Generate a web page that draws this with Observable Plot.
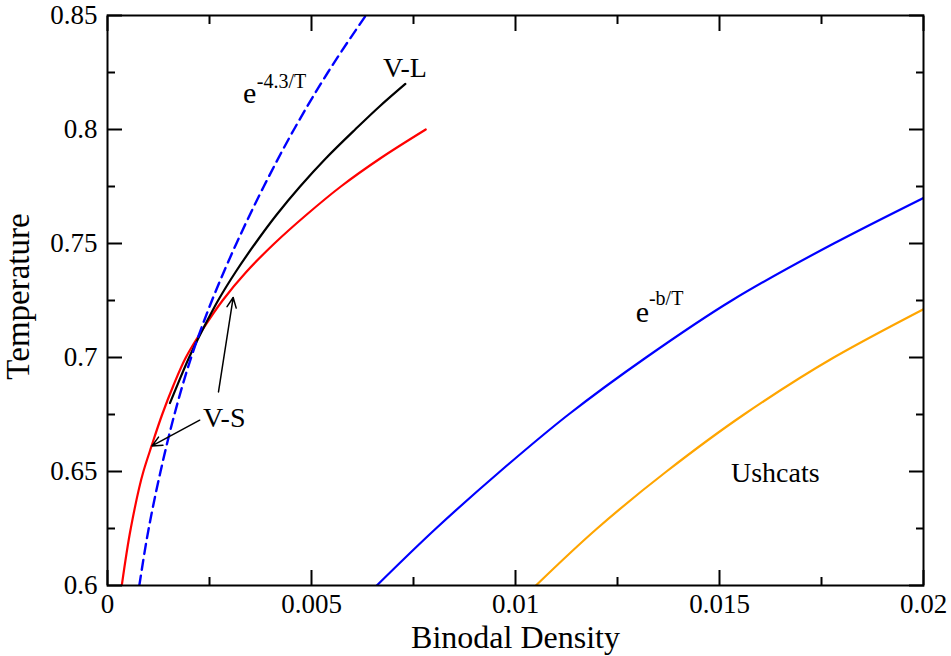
<!DOCTYPE html>
<html><head><meta charset="utf-8">
<script src="https://cdn.jsdelivr.net/npm/d3@7"></script>
<script src="https://cdn.jsdelivr.net/npm/@observablehq/plot@0.6"></script>
<style>
html,body{margin:0;padding:0;background:#fff;}
#chart svg{display:block;}
#chart svg text{font-family:"Liberation Serif","Times New Roman",serif;}
</style></head><body><div id="chart"></div>
<script>
// Axis ticks
const xTicks = [0, 0.005, 0.01, 0.015, 0.02];
const xTickLabels = ["0", "0.005", "0.01", "0.015", "0.02"];
const xMinorTicks = [0.0025, 0.0075, 0.0125, 0.0175];
const yTicks = [0.6, 0.65, 0.7, 0.75, 0.8, 0.85];
const yTickLabels = ["0.6", "0.65", "0.7", "0.75", "0.8", "0.85"];
const yMinorTicks = [0.625, 0.675, 0.725, 0.775, 0.825];

// V-S binodal (red)
const vsT   = [0.6, 0.625, 0.65, 0.6612, 0.675, 0.6875, 0.7, 0.7125, 0.725, 0.7375, 0.75, 0.7625, 0.775, 0.7875, 0.8];
const vsRho = [0.00035, 0.00057, 0.00088, 0.00108, 0.00134, 0.00161, 0.00192, 0.00234, 0.00282, 0.0034, 0.00409, 0.00487, 0.00572, 0.0067, 0.0078];

// V-L binodal (black)
const vlT   = [0.68, 0.69, 0.7, 0.7125, 0.725, 0.7375, 0.75, 0.7625, 0.775, 0.7875, 0.8, 0.81, 0.82];
const vlRho = [0.00153, 0.00176, 0.002, 0.00234, 0.00271, 0.00314, 0.00362, 0.00414, 0.00472, 0.00536, 0.00607, 0.00666, 0.0073];

// e^{-4.3/T} (blue dashed)
const e43T   = [0.6, 0.625, 0.65, 0.675, 0.7, 0.725, 0.75, 0.775, 0.8, 0.825, 0.85];
const e43Rho = [0.00078, 0.00101, 0.0013, 0.00164, 0.00205, 0.00256, 0.00316, 0.00383, 0.00457, 0.0054, 0.00633];

// e^{-b/T} (blue solid)
const ebT   = [0.6, 0.625, 0.65, 0.675, 0.7, 0.725, 0.75, 0.77];
const ebRho = [0.0066, 0.00805, 0.00962, 0.0113, 0.0132, 0.0153, 0.0178, 0.02];

// Ushcats (orange)
const ushT   = [0.6, 0.625, 0.65, 0.675, 0.7, 0.7212];
const ushRho = [0.0105, 0.012, 0.0137, 0.0156, 0.0178, 0.02];

// Annotations (data-space anchors)
const labelText = ["V-L", "V-S", "Ushcats"];
const labelX    = [0.00675, 0.00234, 0.01528];
const labelY    = [0.8229, 0.6694, 0.6453];
const baseText  = ["e", "e"];
const baseX     = [0.00332, 0.01295];
const baseY     = [0.8115, 0.7155];
const supText   = ["-4.3/T", "-b/T"];
const supX      = [0.00366, 0.01327];
const supY      = [0.8181, 0.7229];

// Arrows from the V-S label
const arrowX1 = [0.00226, 0.00272];
const arrowY1 = [0.6725, 0.6849];
const arrowX2 = [0.00109, 0.00308];
const arrowY2 = [0.6612, 0.7263];

const xTitle = "Binodal Density";
const yTitle = "Temperature";

const toRows = (xs, ys) => xs.map((x, i) => ({x, y: ys[i]}));
const vs = toRows(vsRho, vsT);
const vl = toRows(vlRho, vlT);
const e43 = toRows(e43Rho, e43T);
const eb = toRows(ebRho, ebT);
const ush = toRows(ushRho, ushT);
const labels = labelText.map((t, i) => ({t, x: labelX[i], y: labelY[i]}));
const bases = baseText.map((t, i) => ({t, x: baseX[i], y: baseY[i]}));
const sups = supText.map((t, i) => ({t, x: supX[i], y: supY[i]}));
const arrows = arrowX1.map((x1, i) => ({x1, y1: arrowY1[i], x2: arrowX2[i], y2: arrowY2[i]}));

const fmtX = d => xTickLabels[xTicks.indexOf(d)];
const fmtY = d => yTickLabels[yTicks.indexOf(d)];
const blank = () => "";
const serif = '"Liberation Serif", "Times New Roman", serif';

const chart = Plot.plot({
  width: 951,
  height: 656,
  marginLeft: 107,
  marginRight: 28,
  marginTop: 15,
  marginBottom: 71,
  style: {fontFamily: serif, fontSize: "27px", background: "#fff", color: "#000", overflow: "visible"},
  x: {domain: [0, 0.02]},
  y: {domain: [0.6, 0.85]},
  marks: [
    Plot.line(vs, {x: "x", y: "y", stroke: "#ff0000", strokeWidth: 2.2, curve: "monotone-y", clip: true}),
    Plot.line(vl, {x: "x", y: "y", stroke: "#000000", strokeWidth: 2.2, curve: "monotone-y", clip: true}),
    Plot.line(e43, {x: "x", y: "y", stroke: "#0000ff", strokeWidth: 2.4, strokeDasharray: "10,6", curve: "monotone-y", clip: true}),
    Plot.line(eb, {x: "x", y: "y", stroke: "#0000ff", strokeWidth: 2.2, curve: "monotone-y", clip: true}),
    Plot.line(ush, {x: "x", y: "y", stroke: "#ffa500", strokeWidth: 2.2, curve: "monotone-y", clip: true}),
    Plot.arrow(arrows, {x1: "x1", y1: "y1", x2: "x2", y2: "y2", stroke: "#000", strokeWidth: 1.5, headLength: 11, headAngle: 50}),
    Plot.text(labels, {x: "x", y: "y", text: "t", textAnchor: "start", lineAnchor: "bottom", fontSize: 28, fontFamily: serif}),
    Plot.text(bases, {x: "x", y: "y", text: "t", textAnchor: "start", lineAnchor: "bottom", fontSize: 30, fontFamily: serif}),
    Plot.text(sups, {x: "x", y: "y", text: "t", textAnchor: "start", lineAnchor: "bottom", fontSize: 20, fontFamily: serif}),
    // tick labels
    Plot.axisX(xTicks, {anchor: "bottom", tickSize: 0, tickPadding: 8, tickFormat: fmtX, label: null, fontFamily: serif, fontSize: 27, fontVariant: "normal"}),
    Plot.axisY(yTicks, {anchor: "left", tickSize: 0, tickPadding: 10, tickFormat: fmtY, label: null, fontFamily: serif, fontSize: 27, fontVariant: "normal"}),
    // inward ticks on all four sides
    Plot.axisX(xTicks, {anchor: "bottom", tickSize: -15, tickFormat: blank, label: null, strokeWidth: 2}),
    Plot.axisX(xMinorTicks, {anchor: "bottom", tickSize: -8, tickFormat: blank, label: null, strokeWidth: 2}),
    Plot.axisX(xTicks, {anchor: "top", tickSize: -15, tickFormat: blank, label: null, strokeWidth: 2}),
    Plot.axisX(xMinorTicks, {anchor: "top", tickSize: -8, tickFormat: blank, label: null, strokeWidth: 2}),
    Plot.axisY(yTicks, {anchor: "left", tickSize: -15, tickFormat: blank, label: null, strokeWidth: 2}),
    Plot.axisY(yMinorTicks, {anchor: "left", tickSize: -8, tickFormat: blank, label: null, strokeWidth: 2}),
    Plot.axisY(yTicks, {anchor: "right", tickSize: -15, tickFormat: blank, label: null, strokeWidth: 2}),
    Plot.axisY(yMinorTicks, {anchor: "right", tickSize: -8, tickFormat: blank, label: null, strokeWidth: 2}),
    Plot.frame({stroke: "#000", strokeWidth: 2}),
    // axis titles
    Plot.text([xTitle], {text: d => d, frameAnchor: "bottom", textAnchor: "middle", dy: 62, lineAnchor: "bottom", fontSize: 32, fontFamily: serif}),
    Plot.text([yTitle], {text: d => d, frameAnchor: "left", textAnchor: "middle", rotate: -90, dx: -79, dy: -4, lineAnchor: "bottom", fontSize: 33, fontFamily: serif})
  ]
});
document.getElementById("chart").appendChild(chart);
</script>
</body></html>
